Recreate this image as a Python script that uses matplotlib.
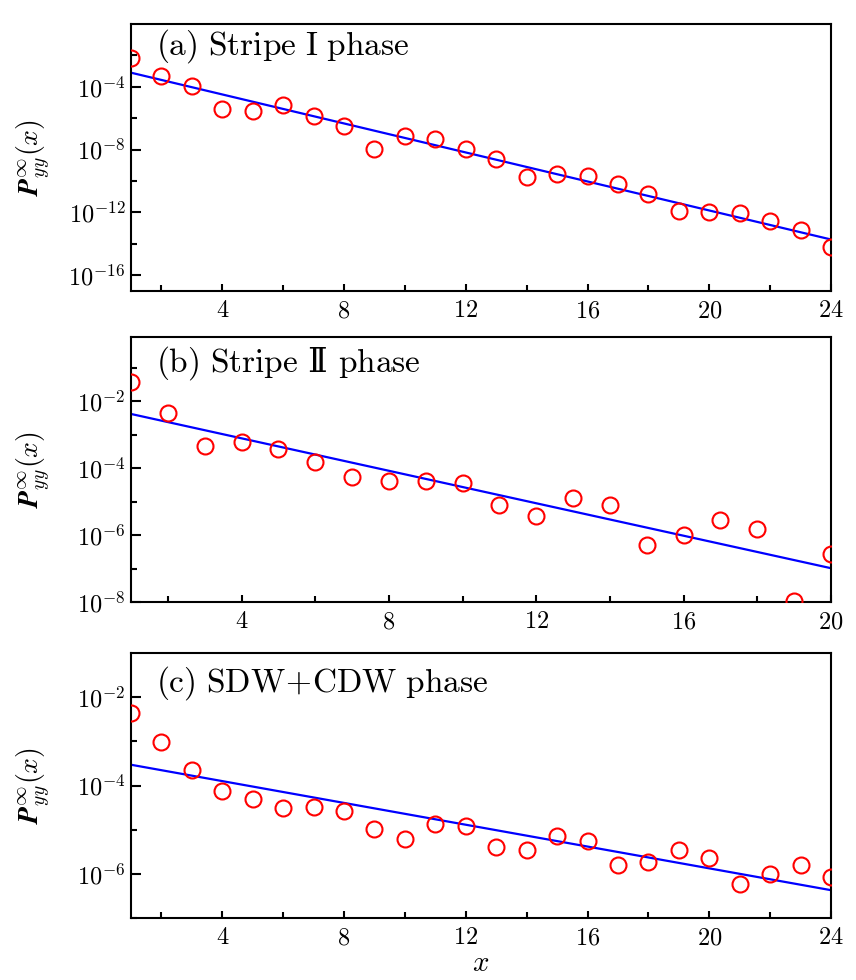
import matplotlib
matplotlib.use("Agg")
import matplotlib.pyplot as plt
import numpy as np
from matplotlib.ticker import FixedLocator, FuncFormatter

plt.rcParams['mathtext.fontset'] = 'cm'
plt.rcParams['font.family'] = ['DejaVu Serif']

# ---- data (log10 values) ----
x_a = list(range(1, 25))
logp_a = [-2.17, -3.32, -3.94, -5.43, -5.54, -5.17, -5.88, -6.47, -7.99, -7.16,
          -7.33, -7.94, -8.58, -9.71, -9.52, -9.65, -10.2, -10.8, -11.89, -11.95,
          -12.02, -12.57, -13.13, -14.19]
fit_x_a = [1, 24]
fit_logp_a = [-3.10, -13.72]

x_b = list(range(1, 21))
logp_b = [-1.43, -2.36, -3.34, -3.23, -3.42, -3.83, -4.25, -4.37, -4.37, -4.45,
          -5.10, -5.44, -4.88, -5.09, -6.31, -5.99, -5.55, -5.81, -7.96, -6.56]
fit_x_b = [1, 20]
fit_logp_b = [-2.38, -6.99]

x_c = list(range(1, 25))
logp_c = [-2.36, -3.02, -3.66, -4.13, -4.31, -4.51, -4.49, -4.57, -4.98, -5.20,
          -4.87, -4.91, -5.40, -5.47, -5.15, -5.26, -5.80, -5.74, -5.46, -5.65,
          -6.23, -6.00, -5.80, -6.08]
fit_x_c = [1, 24]
fit_logp_c = [-3.53, -6.37]

titles = [r"$\mathrm{(a)\ Stripe\ I\ phase}$",
          r"$\mathrm{(b)\ Stripe}$ Ⅱ $\mathrm{phase}$",
          r"$\mathrm{(c)\ SDW\!+\!CDW\ phase}$"]

fig = plt.figure(figsize=(8.56, 9.8), dpi=100)
left, width = 131/856, 700/856
boxes = [(1-291/980, 267/980), (1-602/980, 265/980), (1-918/980, 265/980)]

panels = [
    dict(x=x_a, y=logp_a, fx=fit_x_a, fy=fit_logp_a, xlim=(1, 24), ylim=(-17, 0),
         ymaj=[-4, -8, -12, -16], ymin=[-2, -6, -10, -14], xmaj=[4, 8, 12, 16, 20, 24],
         xmin=[2, 6, 10, 14, 18, 22], ty=0.918),
    dict(x=x_b, y=logp_b, fx=fit_x_b, fy=fit_logp_b, xlim=(1, 20), ylim=(-8, -0.08),
         ymaj=[-2, -4, -6, -8], ymin=[-1, -3, -5, -7], xmaj=[4, 8, 12, 16, 20],
         xmin=[2, 6, 10, 14, 18], ty=0.902),
    dict(x=x_c, y=logp_c, fx=fit_x_c, fy=fit_logp_c, xlim=(1, 24), ylim=(-7, -1),
         ymaj=[-2, -4, -6], ymin=[-3, -5, -7], xmaj=[4, 8, 12, 16, 20, 24],
         xmin=[2, 6, 10, 14, 18, 22], ty=0.887),
]

ylab = r"$\mathbfit{P}_{yy}^{\infty}(x)$"

for i, (p, (b, h)) in enumerate(zip(panels, boxes)):
    ax = fig.add_axes([left, b, width, h])
    ax.set_yscale('log')
    ax.plot(p['fx'], 10.0**np.array(p['fy']), color='#0000ff', lw=1.6, zorder=2)
    ax.plot(p['x'], 10.0**np.array(p['y']), 'o', mfc='none', mec='#ff0000',
            ms=11.5, mew=1.5, zorder=3)
    ax.set_xlim(*p['xlim'])
    ax.set_ylim(10.0**p['ylim'][0], 10.0**p['ylim'][1])
    ax.yaxis.set_major_locator(FixedLocator([10.0**e for e in p['ymaj']]))
    ax.yaxis.set_minor_locator(FixedLocator([10.0**e for e in p['ymin']]))
    ax.yaxis.set_major_formatter(FuncFormatter(lambda v, pos: r"$10^{%d}$" % int(round(np.log10(v)))))
    ax.yaxis.set_minor_formatter(FuncFormatter(lambda v, pos: ""))
    ax.xaxis.set_major_locator(FixedLocator(p['xmaj']))
    ax.xaxis.set_minor_locator(FixedLocator(p['xmin']))
    ax.xaxis.set_major_formatter(FuncFormatter(lambda v, pos: r"$%d$" % int(v)))
    ax.tick_params(which='both', direction='in', top=False, right=False, width=1.5)
    ax.tick_params(axis='y', which='major', length=7, labelsize=17.5, pad=4)
    ax.tick_params(axis='y', which='minor', length=4)
    ax.tick_params(axis='x', which='major', length=5, pad=6, labelsize=17.5)
    ax.tick_params(axis='x', which='minor', length=4)
    for s in ax.spines.values():
        s.set_linewidth(1.5)
    ax.set_ylabel(ylab, fontsize=20)
    ax.yaxis.set_label_coords(-0.113, 0.5)
    ax.text(0.036, p['ty'], titles[i], transform=ax.transAxes, fontsize=24,
            ha='left', va='center')
    if i == 2:
        ax.set_xlabel(r"$x$", fontsize=21, labelpad=0)

fig.savefig("out.png", dpi=100)
